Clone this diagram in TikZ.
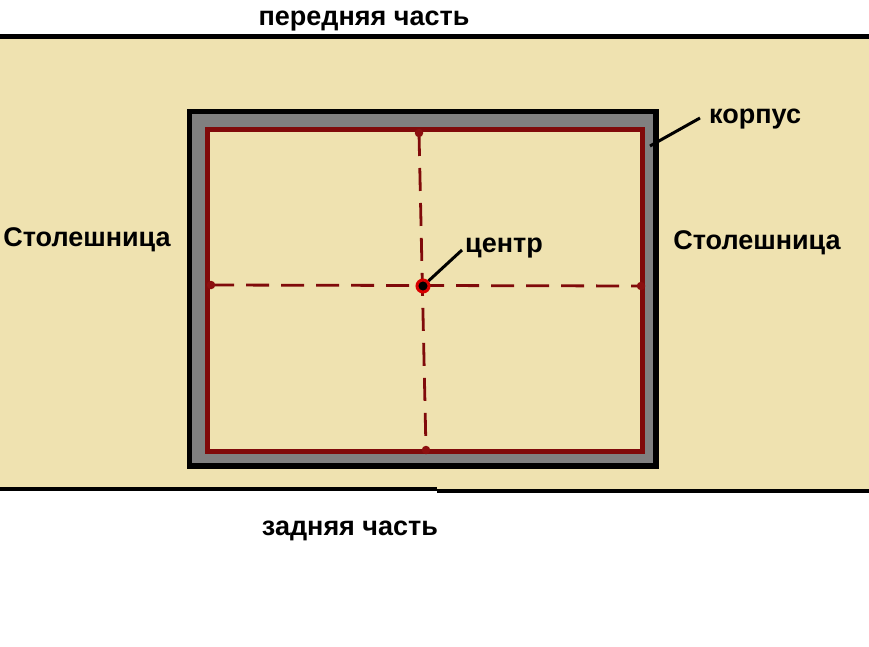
\documentclass[tikz,border=0pt]{standalone}
\usepackage{fontspec}
\setmainfont{Liberation Sans}
\definecolor{table}{RGB}{239,226,176}
\definecolor{wall}{RGB}{128,128,128}
\definecolor{cut}{RGB}{128,10,10}
\definecolor{mark}{RGB}{140,15,15}
\begin{document}
\begin{tikzpicture}[x=1pt,y=-1pt,font=\fontsize{27}{32}\selectfont\bfseries,
  lbl/.style={inner sep=0pt,anchor=base},
  axis/.style={cut,line width=2.8pt,dash pattern=on 23pt off 12pt},
  dot/.style={circle,fill=mark,inner sep=0pt,minimum size=8.5pt}]
\useasboundingbox(0,0)rectangle(869,647);
\fill[table](0,39)rectangle(869,489);
\draw[line width=5pt](0,37)--(869,37);
\draw[line width=4pt](0,489)--(437,489);
\draw[line width=4pt](437,490.5)--(869,490.5);
\draw[line width=5.5pt,fill=wall](189.5,111.5)rectangle(656,466);
\draw[cut,line width=4.5pt,fill=table](207.5,129.5)rectangle(642.5,451.5);
\coordinate(t)at(419,133);
\coordinate(b)at(426,450);
\coordinate(l)at(211,285);
\coordinate(r)at(641,286);
\draw[axis](t)--(b);
\draw[axis](l)--(r);
\foreach \p in {t,b,l,r} \node[dot]at(\p){};
\node[circle,draw=red!85!black,line width=3pt,fill=black,inner sep=0pt,minimum size=12pt](c)at(423,286){};
\node[lbl](front)at(364,26){передняя часть};
\node[lbl](back)at(350,535){задняя часть};
\node[lbl](left)at(87,246){Столешница};
\node[lbl](right)at(757,249){Столешница};
\node[lbl,anchor=base west](centre)at(465,252){центр};
\node[lbl,anchor=base west](body)at(709,124){корпус};
\coordinate(cc)at(462,250);
\coordinate(bb)at(700,118);
\coordinate(bw)at(650,146);
\draw[line width=3pt](c)--(cc);
\draw[line width=3pt](bw)--(bb);
\end{tikzpicture}
\end{document}
